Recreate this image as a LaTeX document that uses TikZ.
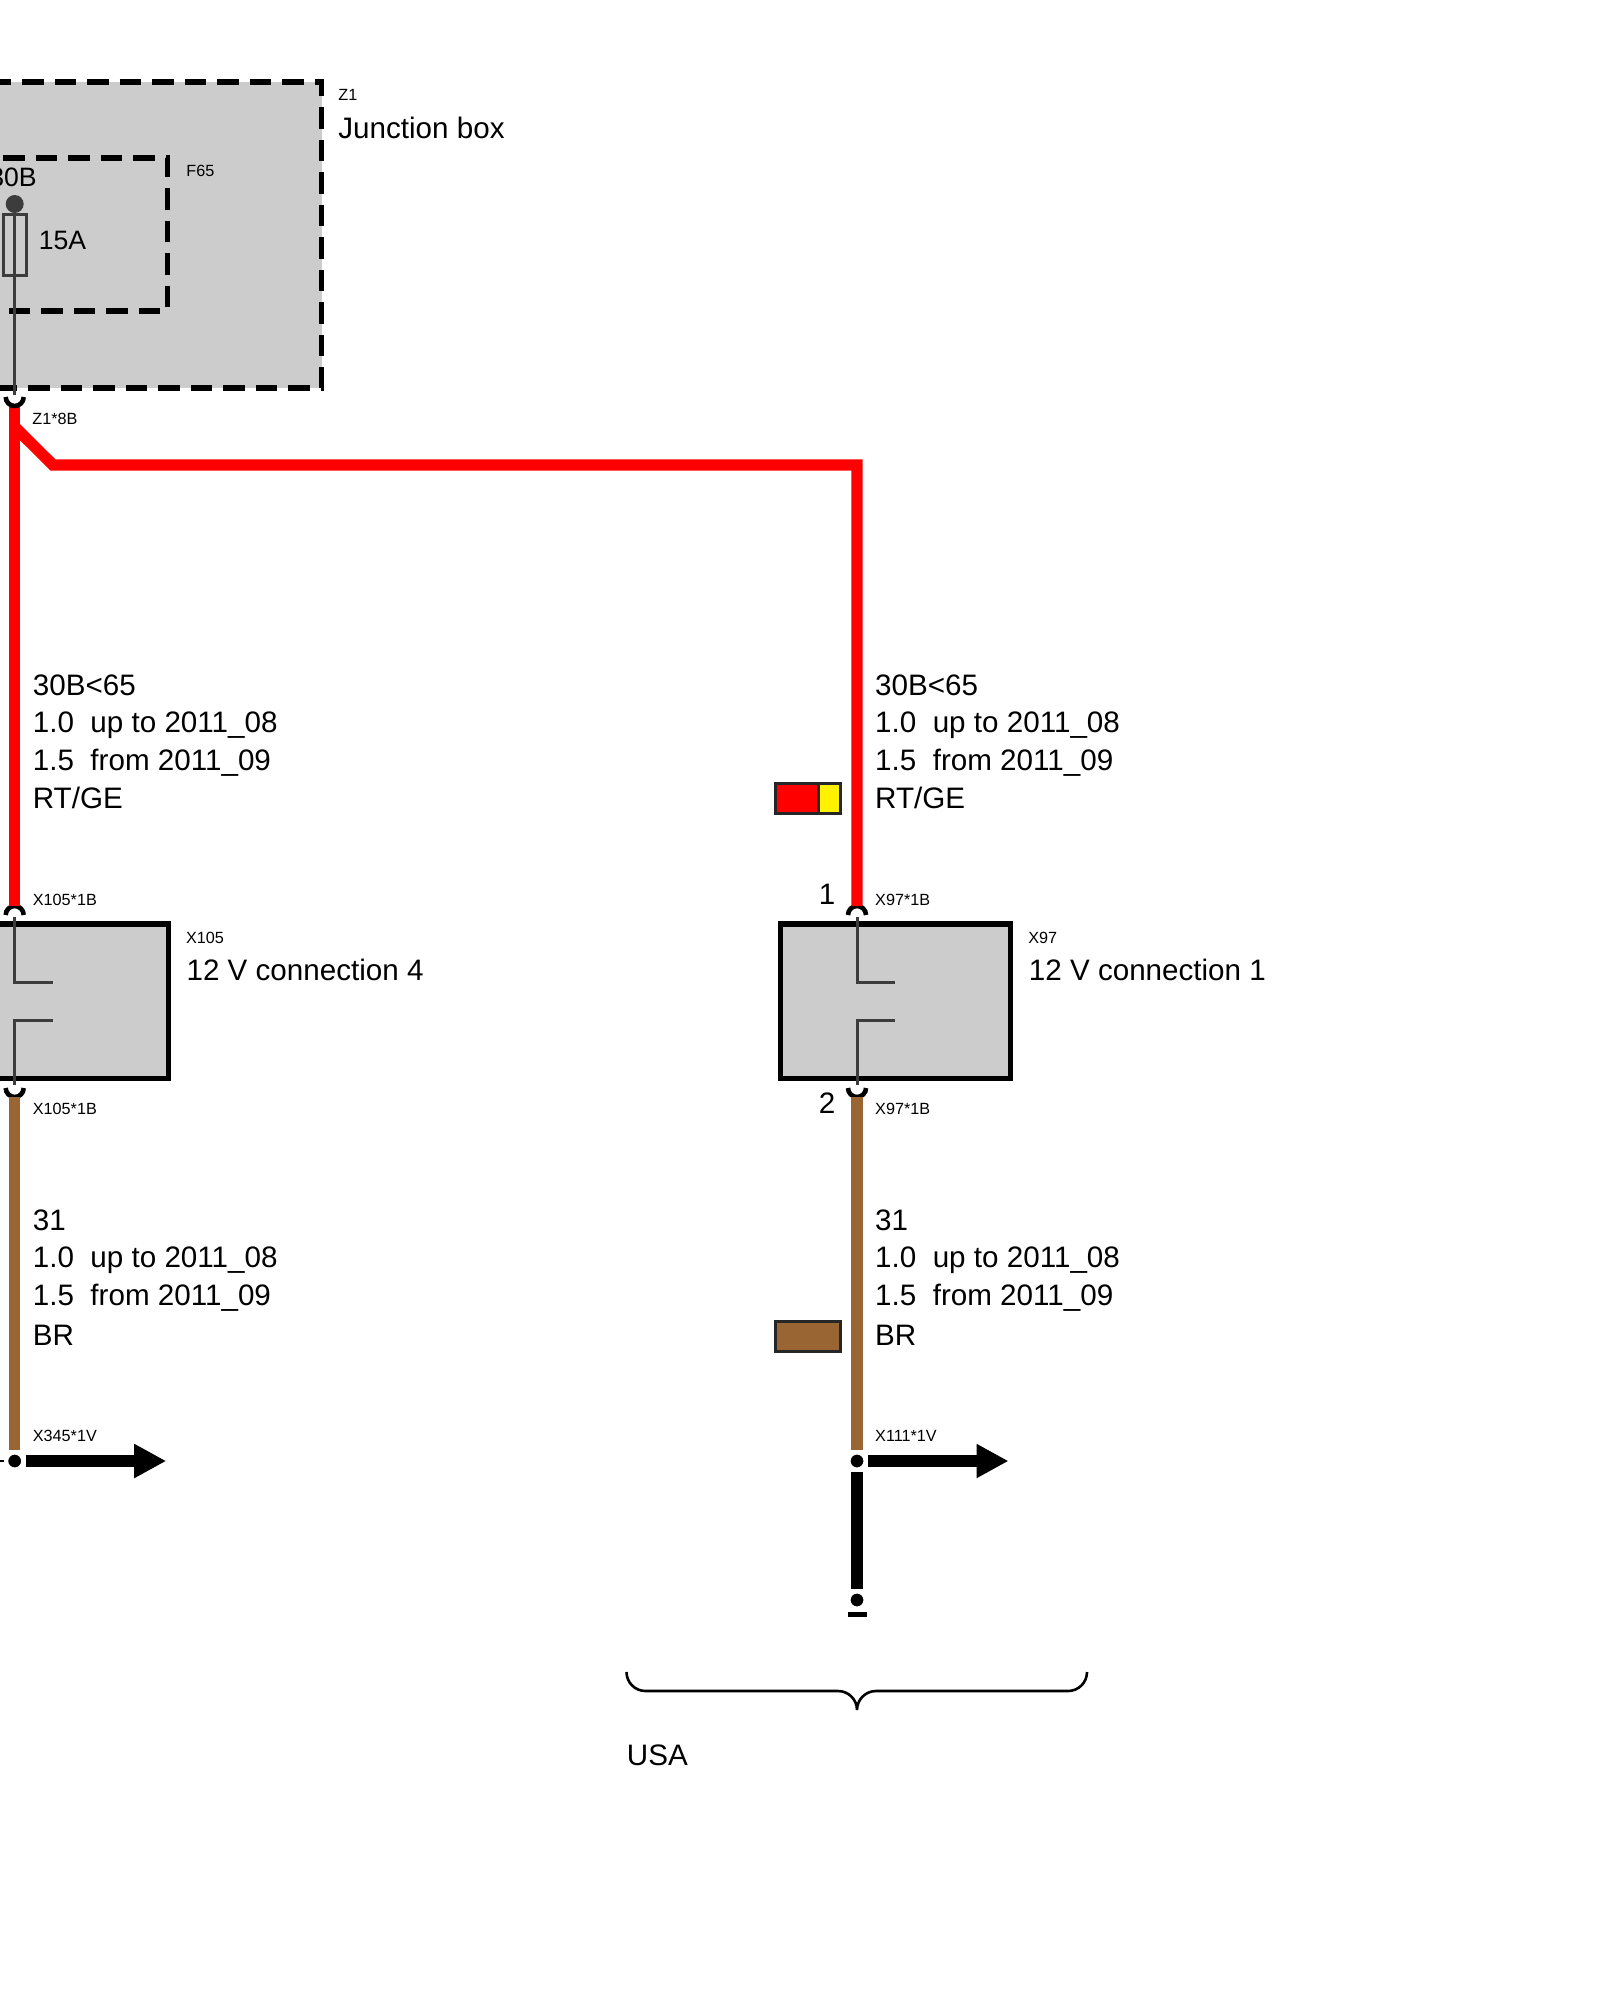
\documentclass[tikz,border=0pt]{standalone}
\usepackage{fontspec}
\setmainfont{Liberation Sans}
\usepackage{xcolor}
\usetikzlibrary{arrows.meta}
\definecolor{wirebrown}{HTML}{996633}
\definecolor{boxgray}{HTML}{CCCCCC}
\definecolor{innergray}{HTML}{3C3C3C}
\tikzset{
  lbl/.style={anchor=base west,inner sep=0pt,font=\fontsize{14.8}{16}\selectfont},
  fuselbl/.style={anchor=base west,inner sep=0pt,font=\fontsize{13.3}{15}\selectfont},
  tag/.style={anchor=base west,inner sep=0pt,font=\fontsize{8.1}{10}\selectfont},
  wire/.style={line width=5.7pt,color=#1},
  inner/.style={line width=1.5pt,color=innergray},
  dashbox/.style={line width=2.7pt,dash pattern=on 10.75pt off 5.5pt},
  device/.style={draw=black,fill=boxgray,line width=2.7pt},
  socket/.style={line width=2.3pt},
  junc/.style={circle,minimum size=8.75pt,inner sep=0pt,draw=white,fill=black,line width=2.25pt},
  outarrow/.style={line width=5.7pt,-{Triangle[length=16pt,width=16pt]}},
  swatch/.style={draw=black!85,line width=1.5pt}
}
\begin{document}
\begin{tikzpicture}[x=0.5pt,y=-0.5pt]
\useasboundingbox (0,0) rectangle (1600,2000);
% junction box with fuse
\fill[boxgray] (-20,82) rectangle (321.5,388);
\draw[dashbox] (-10.5,82) -- (321.5,82) -- (321.5,388) -- (-20,388);
\draw[dashbox] (-29.5,158) -- (167.5,158) -- (167.5,311) -- (-20,311);
\node[tag] (tagZ1) at (338,101) {Z1};
\node[lbl] (nameZ1) at (338,139) {Junction box};
\node[tag] (tagF65) at (186,177) {F65};
\node[fuselbl] (term30B) at (-11,186.5) {30B};
\node[fuselbl] (amps) at (38.5,250) {15A};
\node[circle,fill=innergray,minimum size=9pt,inner sep=0pt] (fusetop) at (14.7,204) {};
\node[draw=innergray,line width=1.35pt,minimum width=11.5pt,minimum height=30.5pt,inner sep=0pt,outer sep=0pt] (fuse) at (14.7,245) {};
\coordinate (pinZ1) at (14.7,407);
\node[tag] (tagZ1pin) at (32,425) {Z1*8B};
\coordinate (brA) at (14.7,427);
\coordinate (brB) at (53,465);
\coordinate (brC) at (857,465);
\foreach \wx/\dev/\num/\gnd in {14.7/X105/4/X345,857/X97/1/X111} {
  \coordinate (top\dev) at (\wx,906);
  \coordinate (bot\dev) at (\wx,1097);
  \node[device,minimum width=115pt,minimum height=77.25pt,inner sep=0pt] (\dev) at (\wx+38.5,1001.25) {};
  \draw[inner] (\wx,917) -- (\wx,982) -- (\wx+38,982);
  \draw[inner] (\wx+38,1020) -- (\wx,1020) -- (\wx,1085);
  \draw[socket] (\wx-9,915) arc[start angle=180,end angle=360,radius=9];
  \draw[socket] (\wx-9,1088) arc[start angle=180,end angle=0,radius=9];
  \node[tag] (tag\dev) at (\wx+171,943) {\dev};
  \node[lbl] (name\dev) at (\wx+171.5,980.5) {12 V connection \num};
  \node[tag] (pin\dev a) at (\wx+17.8,905) {\dev*1B};
  \node[tag] (pin\dev b) at (\wx+17.8,1114) {\dev*1B};
  \node[lbl] (fn\dev) at (\wx+17.8,695.5) {30B<65};
  \node[lbl] (sa\dev) at (\wx+17.8,732.5) {1.0\ \ up to 2011\_08};
  \node[lbl] (sb\dev) at (\wx+17.8,770.8) {1.5\ \ from 2011\_09};
  \node[lbl] (col\dev) at (\wx+17.8,808) {RT/GE};
  \node[lbl] (gfn\dev) at (\wx+17.8,1230) {31};
  \node[lbl] (gsa\dev) at (\wx+17.8,1267) {1.0\ \ up to 2011\_08};
  \node[lbl] (gsb\dev) at (\wx+17.8,1305) {1.5\ \ from 2011\_09};
  \node[lbl] (gcol\dev) at (\wx+17.8,1345.7) {BR};
  \node[junc] (j\gnd) at (\wx,1461) {};
  \node[tag] (tag\gnd) at (\wx+17.8,1441) {\gnd*1V};
  \coordinate (tip\gnd) at (\wx+151.5,1461);
  \draw[wire=wirebrown] (bot\dev) -- (j\gnd);
  \draw[outarrow] (j\gnd) -- (tip\gnd);
}
\draw[wire=red] (pinZ1) -- (topX105);
\draw[wire=red,line join=miter] (brA) -- (brB) -- (brC) -- (topX97);
\draw[socket] (5.7,397) arc[start angle=180,end angle=0,radius=9];
\draw[inner] (fusetop) -- (14.7,395);
% pin numbers and colour swatches
\node[lbl,anchor=base] (num1) at (827,904) {1};
\node[lbl,anchor=base] (num2) at (827,1113) {2};
\draw[swatch,fill=red] (775.5,783.5) rectangle (818.5,813);
\draw[swatch,fill=yellow] (818.5,783.5) rectangle (840,813);
\draw[swatch,fill=wirebrown] (775.5,1321) rectangle (840,1351);
% ground
\node[junc] (gnd) at (857,1600) {};
\draw[wire=black] (jX111) -- (gnd);
\node[fill=black,minimum width=9.5pt,minimum height=2.5pt,inner sep=0pt] (gndbar) at (857,1614) {};
\coordinate (stub) at (-5,1461);
\draw[line width=1pt] (jX345) -- (stub);
% brace
\draw[line width=1.3pt,line join=bevel] (626.5,1672) arc[start angle=180,end angle=90,radius=19] -- (838,1691) arc[start angle=-90,end angle=0,radius=19] arc[start angle=180,end angle=270,radius=19] -- (1068,1691) arc[start angle=90,end angle=0,radius=19];
\node[lbl] (usa) at (626.5,1765) {USA};
\end{tikzpicture}
\end{document}
